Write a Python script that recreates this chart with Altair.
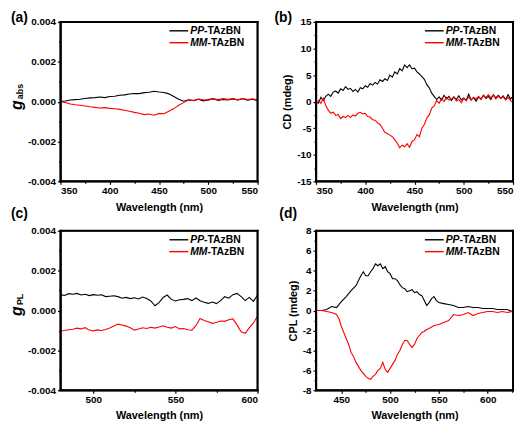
import altair as alt
import pandas as pd

# ---------------- data ----------------
# (a) g_abs, values x1e-4
a_wl = list(range(350, 551, 5))
a_pp = [0, 0.3, 0.8, 1.0, 1.2, 1.6, 1.9, 2.0, 2.3, 2.0, 2.6, 2.7, 3.2, 3.4, 3.8, 4.1, 4.0, 4.5, 4.7, 5.2,
        4.8, 4.6, 3.9, 2.6, 1.2, 0.2, 0.9, 0.5, 1.2, 0.4, 1.0, 1.5, 0.6, 1.1, 0.8, 1.3, 0.9, 1.4, 0.7, 1.2, 0.5]
a_mm = [0, -0.4, -1.2, -1.6, -1.8, -2.2, -2.6, -2.9, -3.2, -3.0, -3.4, -3.6, -3.9, -4.3, -4.8, -5.4, -5.8,
        -6.5, -6.2, -6.8, -5.9, -6.1, -4.8, -3.5, -1.8, -0.5, 0.8, 0.6, 1.3, 0.9, 0.7, 1.4, 1.0, 1.6, 1.2,
        1.5, 0.9, 1.6, 1.1, 1.4, 0.8]

# (b) CD (mdeg)
b_wl = [350 + 2.5 * i for i in range(81)]
b_pp = [0.0, -0.3, 0.8, 0.2, 1.0, 1.4, 1.0, 1.8, 2.0, 1.6, 2.4, 2.1, 2.8, 2.3, 2.5, 1.9, 2.3, 1.8, 2.6, 2.4,
        3.0, 2.7, 3.4, 3.1, 3.6, 3.3, 4.1, 3.8, 4.3, 4.0, 5.0, 4.6, 5.6, 5.2, 6.2, 5.8, 6.9, 6.4, 6.9, 6.2,
        6.3, 5.6, 5.2, 4.7, 4.2, 3.2, 2.6, 1.6, 1.0, 0.4, 0.9, 0.3, 1.2, 0.5, 1.0, 0.2, 0.9, 0.4, 1.1, 0.3,
        0.7, 0.2, 1.4, 0.3, 0.8, 0.1, 0.9, 0.5, 1.2, 0.6, 1.0, 0.4, 1.3, 0.7, 1.2, 0.6, 1.1, 0.4, 1.3, 0.5,
        1.0]
b_mm = [-0.6, 0.2, -0.3, 0.6, -0.8, -1.6, -2.2, -2.0, -2.6, -2.4, -3.2, -2.8, -3.0, -2.6, -3.0, -2.5, -2.7,
        -2.2, -2.0, -2.3, -2.2, -2.8, -2.9, -3.4, -3.5, -4.0, -4.3, -5.0, -5.8, -6.0, -6.3, -6.6, -7.2, -7.8,
        -8.7, -8.2, -8.5, -7.9, -8.6, -7.5, -7.2, -6.2, -6.6, -5.0, -4.3, -3.1, -2.5, -1.2, -0.8, 0.2, -0.3,
        0.6, 0.0, 0.8, 0.3, 0.5, 0.9, 0.1, 0.4, -0.2, 0.6, 0.2, 0.9, 0.3, 0.8, 0.5, 1.0, 0.4, 1.1, 0.8, 1.3,
        0.7, 1.2, 0.5, 1.0, 0.6, 0.9, 0.3, 0.8, 0.2, -0.2]

# (c) g_PL, values x1e-4
c_wl = [480 + 2.5 * i for i in range(49)]
c_pp = [8.0, 7.6, 8.5, 8.2, 8.6, 7.8, 8.2, 7.5, 8.0, 7.7, 7.9, 7.0, 7.2, 7.4, 7.0, 6.2, 6.6, 6.0, 6.4, 5.8,
        6.8, 6.0, 4.8, 2.4, 4.0, 6.6, 7.8, 5.6, 4.8, 5.4, 5.6, 6.0, 5.0, 6.3, 4.9, 4.2, 3.6, 4.3, 3.5, 5.0,
        7.0, 6.2, 8.0, 8.6, 7.0, 5.0, 6.6, 4.6, 7.8]
c_mm = [-10.2, -10.0, -9.6, -9.4, -8.8, -9.2, -8.6, -9.8, -10.2, -9.7, -10.0, -9.5, -8.8, -7.8, -6.8, -7.2,
        -7.8, -8.6, -9.8, -9.2, -8.6, -9.0, -8.4, -8.8, -8.2, -7.6, -8.4, -8.8, -8.0, -9.2, -9.0, -9.6, -9.8,
        -7.6, -4.0, -5.0, -5.6, -6.4, -6.0, -5.2, -5.4, -4.6, -4.2, -7.2, -10.6, -11.4, -8.6, -6.2, -2.8]

# (d) CPL (mdeg)
d_pp_wl = [425, 430, 435, 440, 445, 450, 455, 460, 465, 470, 472.5, 475, 477.5, 480, 482.5, 485, 487.5, 490,
           492.5, 495, 497.5, 500, 502.5, 505, 507.5, 510, 512.5, 515, 517.5, 520, 522.5, 525, 527.5, 530,
           532.5, 535, 537.5, 540, 542.5, 545, 547.5, 550, 555, 560, 565, 570, 575, 580, 585, 590, 595, 600,
           605, 610, 615, 620, 625]
d_pp = [0.0, 0.0, 0.1, 0.4, 0.3, 0.9, 1.4, 2.0, 2.5, 3.5, 3.9, 3.5, 3.5, 3.9, 4.2, 4.7, 4.5, 4.7, 4.2, 4.4,
        3.9, 3.7, 3.2, 3.2, 3.0, 2.6, 2.3, 2.2, 1.9, 2.0, 2.1, 1.8, 1.9, 1.6, 1.5, 1.0, 0.5, 0.8, 1.2, 1.4,
        1.0, 0.8, 0.7, 0.6, 0.5, 0.3, 0.3, 0.4, 0.3, 0.3, 0.2, 0.2, 0.2, 0.1, 0.1, 0.1, -0.1]
d_mm_wl = [425, 430, 435, 440, 445, 447.5, 450, 452.5, 455, 457.5, 460, 462.5, 465, 467.5, 470, 472.5, 475,
           477.5, 480, 482.5, 485, 487.5, 490, 492.5, 495, 497.5, 500, 502.5, 505, 507.5, 510, 512.5, 515,
           517.5, 520, 522.5, 525, 527.5, 530, 532.5, 535, 537.5, 540, 545, 550, 555, 560, 565, 570, 575,
           580, 585, 590, 595, 600, 605, 610, 615, 620, 625]
d_mm = [0.0, 0.0, -0.1, -0.2, -0.4, -0.8, -1.6, -2.2, -2.8, -3.4, -4.2, -4.6, -5.2, -5.6, -6.0, -6.3, -6.6,
        -6.8, -6.9, -6.6, -6.4, -6.0, -5.8, -5.2, -5.9, -6.2, -5.8, -5.4, -5.0, -4.4, -4.0, -3.4, -3.0, -3.0,
        -3.4, -3.7, -3.4, -2.8, -2.5, -2.2, -2.1, -1.9, -1.8, -1.5, -1.4, -1.2, -1.0, -0.4, -0.5, -0.4, -0.2,
        -0.5, -0.3, -0.2, -0.1, -0.1, -0.2, -0.1, -0.2, -0.1]

FONT = "Liberation Sans"
W, H = 199, 161
MINUS = "\u2212"


def lbl_expr(fmt):
    return "replace(format(datum.value, '%s'), '%s', '-')" % (fmt, MINUS)


def one():
    return alt.Data(values=[{"k": 1}])


def edge(x1, x2, y1, y2):
    # filled bar forming one side of the plot frame
    return alt.Chart(one()).mark_rect(color="black", opacity=1).encode(
        x=alt.value(x1), x2=alt.value(x2), y=alt.value(y1), y2=alt.value(y2))


def panel(xs_pp, pp, xs_mm, mm, scale, xdom, xmaj, xmin, ydom, ymaj, ymin, yfmt,
          ytitle, label, below_label, gsub, lab_dx, below_dx):
    dpp = pd.DataFrame({"wl": xs_pp, "v": [v * scale for v in pp]})
    dmm = pd.DataFrame({"wl": xs_mm, "v": [v * scale for v in mm]})
    xs = alt.Scale(domain=xdom, nice=False, zero=False)
    ys = alt.Scale(domain=ydom, nice=False, zero=False)
    yax_kw = dict(values=ymaj, orient="left", tickSize=3, labelPadding=2,
                  labelExpr=lbl_expr(yfmt))
    if ytitle:
        yax_kw.update(title=ytitle, titlePadding=4)
    else:
        yax_kw.update(title=None)
    black = alt.Chart(dpp).mark_line(color="black", strokeWidth=1.1).encode(
        x=alt.X("wl:Q", scale=xs, axis=alt.Axis(values=xmaj, orient="bottom", tickSize=3,
                                               labelPadding=1, format="d",
                                               title="Wavelength (nm)", titlePadding=6)),
        y=alt.Y("v:Q", scale=ys, axis=alt.Axis(**yax_kw)),
    )
    red = alt.Chart(dmm).mark_line(color="#ff0000", strokeWidth=1.1).encode(
        x=alt.X("wl:Q", scale=xs, axis=None),
        y=alt.Y("v:Q", scale=ys, axis=None),
    )
    minor = alt.Chart(dpp).mark_line(strokeOpacity=0).encode(
        x=alt.X("wl:Q", scale=xs, axis=alt.Axis(values=xmin, orient="bottom", labels=False,
                                               tickSize=2, domain=False, title=None)),
        y=alt.Y("v:Q", scale=ys, axis=alt.Axis(values=ymin, orient="left", labels=False,
                                              tickSize=2, domain=False, title=None)),
    )
    layers = [minor, black, red]
    # legend
    for yy, col, name in [(9, "black", "PP"), (21, "#ff0000", "MM")]:
        layers.append(alt.Chart(one()).mark_rule(color=col, strokeWidth=1.4).encode(
            x=alt.value(110), x2=alt.value(129), y=alt.value(yy)))
        layers.append(alt.Chart(one()).mark_text(
            text=name, font=FONT, fontSize=10.5, fontWeight="bold", fontStyle="italic",
            align="left", baseline="middle").encode(x=alt.value(131), y=alt.value(yy)))
        layers.append(alt.Chart(one()).mark_text(
            text="-TAzBN", font=FONT, fontSize=10.5, fontWeight="bold",
            align="left", baseline="middle").encode(
            x=alt.value(131 + (14.0 if name == "PP" else 17.5)), y=alt.value(yy)))
    # panel labels
    if label:
        layers.append(alt.Chart(one()).mark_text(
            text=label, font=FONT, fontSize=14, fontWeight="bold", align="left", baseline="top"
        ).encode(x=alt.value(lab_dx), y=alt.value(-11)))
    if below_label:
        layers.append(alt.Chart(one()).mark_text(
            text=below_label, font=FONT, fontSize=14, fontWeight="bold", align="left",
            baseline="top").encode(x=alt.value(below_dx), y=alt.value(H + 26)))
    # g_x y-title
    if gsub:
        gy, sy = gsub[1], gsub[2]
        layers.append(alt.Chart(one()).mark_text(
            text="g", font=FONT, fontSize=16, fontWeight="bold", fontStyle="italic",
            align="left", angle=270).encode(x=alt.value(-44), y=alt.value(gy)))
        layers.append(alt.Chart(one()).mark_text(
            text=gsub[0], font=FONT, fontSize=9, fontWeight="bold",
            align="left", angle=270).encode(x=alt.value(-41), y=alt.value(sy)))
    # frame (four sides), about 2 px thick
    t = 1.0
    layers += [edge(-t, W + t, -t, t), edge(-t, W + t, H - t, H + t),
               edge(-t, t, -t, H + t), edge(W - t, W + t, -t, H + t)]
    return alt.layer(*layers).resolve_scale(x="independent", y="independent").properties(
        width=W, height=H)


pa = panel(a_wl, a_pp, a_wl, a_mm, 1e-4, [350, 550], [350, 400, 450, 500, 550],
           [375, 425, 475, 525], [-0.004, 0.004], [-0.004, -0.002, 0, 0.002, 0.004],
           [-0.003, -0.001, 0.001, 0.003], ".3f", None, "(a)", "(c)",
           ("abs", 89, 78), -50, -50)
pb = panel(b_wl, b_pp, b_wl, b_mm, 1, [350, 550], [350, 400, 450, 500, 550],
           [375, 425, 475, 525], [-15, 15], [-15, -10, -5, 0, 5, 10, 15],
           [-12.5, -7.5, -2.5, 2.5, 7.5, 12.5], "d", "CD (mdeg)", "(b)", "(d)",
           None, -42, -37)
pc = panel(c_wl, c_pp, c_wl, c_mm, 1e-4, [480, 600], [500, 550, 600],
           [525, 575], [-0.004, 0.004], [-0.004, -0.002, 0, 0.002, 0.004],
           [-0.003, -0.001, 0.001, 0.003], ".3f", None, "", None,
           ("PL", 86, 75), -50, -50)
pd_ = panel(d_pp_wl, d_pp, d_mm_wl, d_mm, 1, [424, 626], [450, 500, 550, 600],
            [475, 525, 575, 625], [-8, 8], [-8, -6, -4, -2, 0, 2, 4, 6, 8],
            [-7, -5, -3, -1, 1, 3, 5, 7], "d", "CPL (mdeg)", "", None,
            None, -37, -37)

chart = alt.concat(pa, pb, pc, pd_, columns=2, spacing={"row": 3, "column": 13}).properties(
    padding=0
).configure_view(
    stroke="black", strokeWidth=1.5
).configure_axis(
    grid=False, domainColor="black", tickColor="black", labelColor="black", titleColor="black",
    labelFont=FONT, titleFont=FONT, labelFontSize=10, titleFontSize=11,
    labelFontWeight="bold", titleFontWeight="bold", domainWidth=1.5, tickWidth=1.2
)

chart.save("out.html", embed_options={"renderer": "svg", "actions": False})
